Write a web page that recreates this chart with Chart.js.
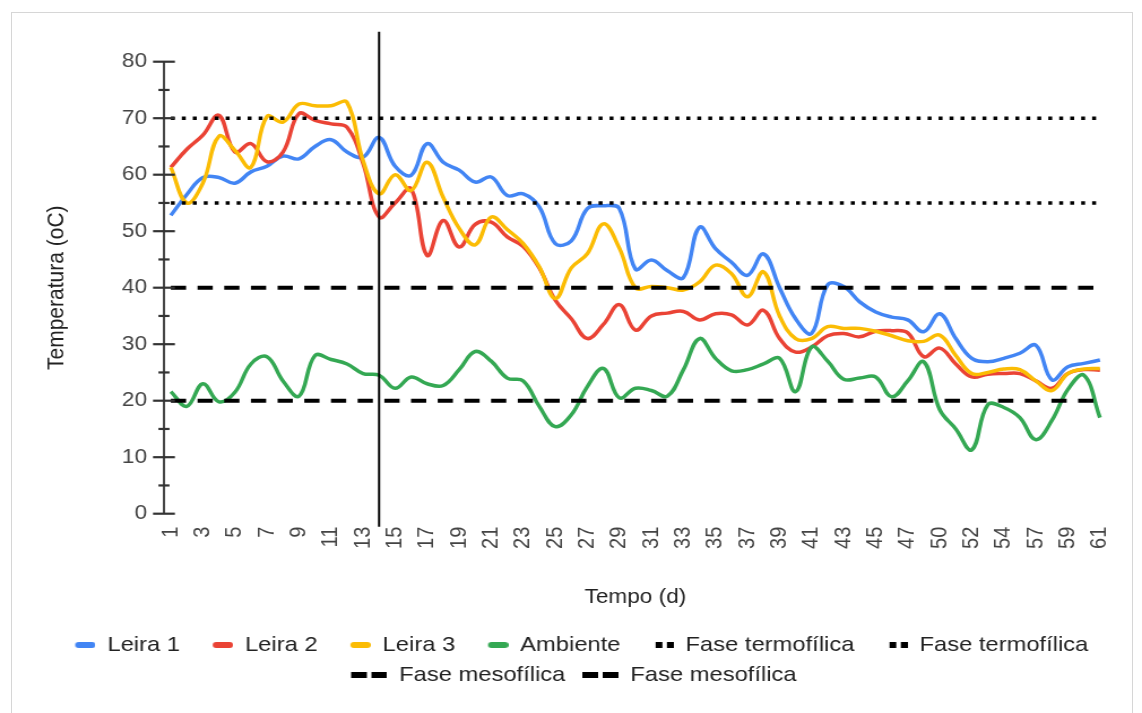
<!DOCTYPE html>
<html>
<head>
<meta charset="utf-8">
<script src="https://cdn.jsdelivr.net/npm/chart.js@4.4.1/dist/chart.umd.min.js"></script>
<style>
  html, body { margin: 0; padding: 0; background: #fff; overflow: hidden; }
  #frame { position: absolute; left: 11px; top: 12px; width: 1120px; height: 760px; border: 1px solid #d6d6d6; }
  #chart { position: absolute; left: 0; top: 0; }
</style>
</head>
<body>
<div id="frame"></div>
<canvas id="chart" width="1010" height="713" style="width:1142px;height:713px"></canvas>
<script>
// days of composting (x categories), only every other one is labelled
const days = ['1', '2', '3', '4', '5', '6', '7', '8', '9', '10', '11', '12', '13', '14', '15', '16',
  '17', '18', '19', '20', '21', '22', '23', '24', '25', '26', '27', '28', '29', '30', '31', '32',
  '33', '34', '35', '36', '37', '38', '39', '40', '41', '42', '43', '44', '45', '46', '47', '48',
  '50', '51', '52', '53', '54', '55', '57', '58', '59', '60', '61'];

const leira1 = [52.8, 56.5, 59.5, 59.5, 58.5, 60.5, 61.5, 63.3, 62.8, 65, 66.2, 64, 63.1, 66.6,
  61.5, 59.9, 65.5, 62.2, 60.8, 58.7, 59.6, 56.3, 56.6, 54.3, 47.8, 48.3, 54, 54.5, 54,
  43.3, 44.9, 43, 41.8, 50.7, 46.9, 44.5, 42.2, 46, 40, 34.5, 31.9, 40.5, 40.2, 37.5,
  35.7, 34.8, 34.3, 32.2, 35.4, 31, 27.5, 26.9, 27.5, 28.4, 29.8, 23.7, 26, 26.6, 27.2];

const leira2 = [61.3, 64.5, 67, 70.5, 64, 65.5, 62.3, 64, 70.8, 69.6, 69, 68.4, 62, 52.5,
  55, 57.5, 45.7, 51.9, 47.2, 51.2, 51.6, 49, 47.3, 43.5, 37.8, 34.5, 31, 33.5, 37,
  32.5, 35, 35.5, 35.8, 34.3, 35.4, 35.2, 33.4, 36, 31, 28.6, 29.5, 31.5, 31.9, 31.3,
  32.3, 32.4, 32, 27.8, 29.3, 26.5, 24.2, 24.7, 24.8, 24.8, 23.5, 22.2, 24.8, 25.5, 25.4];

const leira3 = [61.3, 55, 58.5, 66.8, 64.3, 61.3, 70.3, 69.3, 72.5, 72.2, 72.2, 72.8, 62.5,
  56.6, 60, 57.2, 62.2, 56, 50.5, 47.6, 52.5, 50.3, 47.8, 43.7, 38.1, 43.5, 46, 51.3, 47,
  40, 40.2, 40, 39.6, 41, 44, 42.5, 38.4, 42.8, 35, 31, 31, 33.1, 32.8, 32.8,
  32.3, 31.5, 30.6, 30.5, 31.6, 28, 24.8, 25, 25.6, 25.5, 23.5, 21.8, 24.8, 25.6, 25.7];

const ambiente = [21.6, 19, 23, 19.8, 21.5, 26.5, 27.8, 23.5, 20.8, 28, 27.3, 26.5, 24.8, 24.5,
  22.2, 24.2, 23, 22.7, 25.5, 28.7, 27, 24, 23.5, 19, 15.4, 17.5, 22.5, 25.7, 20.5,
  22.2, 21.8, 20.8, 25.5, 31, 27.5, 25.3, 25.5, 26.5, 27.5, 21.6, 29.5, 27, 23.8, 24,
  24.2, 20.7, 23.5, 26.9, 18.4, 15, 11.3, 19.3, 18.8, 17, 13.1, 16.5, 22, 24.5, 17];

// phase limits (oC)
const termoLimits = [70, 55];
const mesoLimits = [40, 20];
// day where the vertical marker sits
const markerDay = '14';

const FONT = '"Liberation Sans", Arial, sans-serif';
Chart.defaults.font.family = FONT;

// little pictures used as legend keys
function makeSwatch(kind, color) {
  const c = document.createElement('canvas');
  c.width = 38;
  c.height = 8;
  const g = c.getContext('2d');
  g.fillStyle = color;
  g.strokeStyle = color;
  if (kind === 'solid') {
    g.lineWidth = 6;
    g.lineCap = 'round';
    g.beginPath();
    g.moveTo(23, 4);
    g.lineTo(35, 4);
    g.stroke();
  } else if (kind === 'dot') {
    g.fillRect(22, 1, 6, 6);
    g.fillRect(32, 1, 6, 6);
  } else {
    g.fillRect(6, 1, 14, 6);
    g.fillRect(24, 1, 14, 6);
  }
  return c;
}

function seriesDataset(label, data, color, order) {
  return {
    label, data, order,
    borderColor: color,
    backgroundColor: color,
    borderWidth: 3.5,
    tension: 0.4,
    pointRadius: 0,
    pointHoverRadius: 0,
    fill: false,
    swatch: makeSwatch('solid', color)
  };
}

function limitDataset(label, value, kind, order) {
  const dotted = kind === 'dot';
  return {
    label, order,
    data: [{ x: days[0], y: value }, { x: days[days.length - 1], y: value }],
    borderColor: '#000',
    backgroundColor: '#000',
    borderWidth: dotted ? 3.5 : 4,
    borderDash: dotted ? [3.5, 6.2] : [13.5, 10.1],
    pointRadius: 0,
    pointHoverRadius: 0,
    fill: false,
    swatch: makeSwatch(kind, '#000')
  };
}

const datasets = [
  seriesDataset('Leira 1', leira1, '#4285F4', 8),
  seriesDataset('Leira 2', leira2, '#EA4335', 7),
  seriesDataset('Leira 3', leira3, '#FBBC04', 6),
  seriesDataset('Ambiente', ambiente, '#34A853', 5),
  limitDataset('Fase termofílica', termoLimits[0], 'dot', 4),
  limitDataset('Fase termofílica', termoLimits[1], 'dot', 3),
  limitDataset('Fase mesofílica', mesoLimits[0], 'dash', 2),
  limitDataset('Fase mesofílica', mesoLimits[1], 'dash', 1)
];

// y axis with crossing ticks + the vertical marker line
const axisPlugin = {
  id: 'axisAndMarker',
  afterDatasetsDraw(chart) {
    const { ctx, chartArea, scales: { x, y } } = chart;
    ctx.save();
    const ax = chartArea.left + 1;
    ctx.strokeStyle = '#333';
    ctx.lineWidth = 1.8;
    ctx.beginPath();
    ctx.moveTo(ax, y.getPixelForValue(y.max));
    ctx.lineTo(ax, y.getPixelForValue(y.min));
    ctx.stroke();

    ctx.lineWidth = 2.2;
    for (let v = y.min; v <= y.max; v += 5) {
      const py = y.getPixelForValue(v);
      const half = v % 10 === 0 ? 9.7 : 4.9;
      ctx.beginPath();
      ctx.moveTo(ax - half, py);
      ctx.lineTo(ax + half, py);
      ctx.stroke();
    }

    const mx = x.getPixelForValue(days.indexOf(markerDay));
    ctx.strokeStyle = '#000';
    ctx.lineWidth = 2;
    ctx.beginPath();
    ctx.moveTo(mx, chartArea.top - 30);
    ctx.lineTo(mx, chartArea.bottom + 13);
    ctx.stroke();
    ctx.restore();
  }
};

new Chart(document.getElementById('chart'), {
  type: 'line',
  data: { labels: days, datasets },
  plugins: [axisPlugin],
  options: {
    responsive: false,
    animation: false,
    devicePixelRatio: 1,
    layout: { padding: { top: 61.7, right: 23, bottom: 17.5, left: 22 } },
    plugins: {
      tooltip: { enabled: false },
      legend: {
        position: 'bottom',
        labels: {
          usePointStyle: true,
          pointStyleWidth: 38,
          padding: 9,
          color: '#222',
          font: { size: 21 },
          sort: (a, b) => a.datasetIndex - b.datasetIndex,
          generateLabels(chart) {
            const items = Chart.defaults.plugins.legend.labels.generateLabels(chart);
            items.forEach(it => { it.pointStyle = chart.data.datasets[it.datasetIndex].swatch; });
            return items;
          }
        }
      }
    },
    scales: {
      x: {
        type: 'category',
        offset: true,
        grid: { display: false, drawTicks: false },
        border: { display: false },
        ticks: {
          autoSkip: false,
          minRotation: 90,
          maxRotation: 90,
          padding: 13,
          color: '#444',
          font: { size: 20 },
          callback: (v, i) => (i % 2 === 0 ? days[i] : '')
        },
        title: {
          display: true,
          text: 'Tempo (d)',
          color: '#222',
          font: { size: 20 },
          padding: { top: 0, bottom: 16.5 }
        },
        afterFit(scale) { scale.height = 111.8; }
      },
      y: {
        min: 0,
        max: 80,
        grid: { display: false, drawTicks: false },
        border: { display: false },
        ticks: { stepSize: 10, padding: 14, color: '#444', font: { size: 20 } },
        title: {
          display: true,
          text: 'Temperatura (oC)',
          color: '#222',
          font: { size: 21 },
          padding: { top: 15.8, bottom: 0 }
        },
        afterFit(scale) { scale.width = 122; }
      }
    }
  }
});
</script>
</body>
</html>
